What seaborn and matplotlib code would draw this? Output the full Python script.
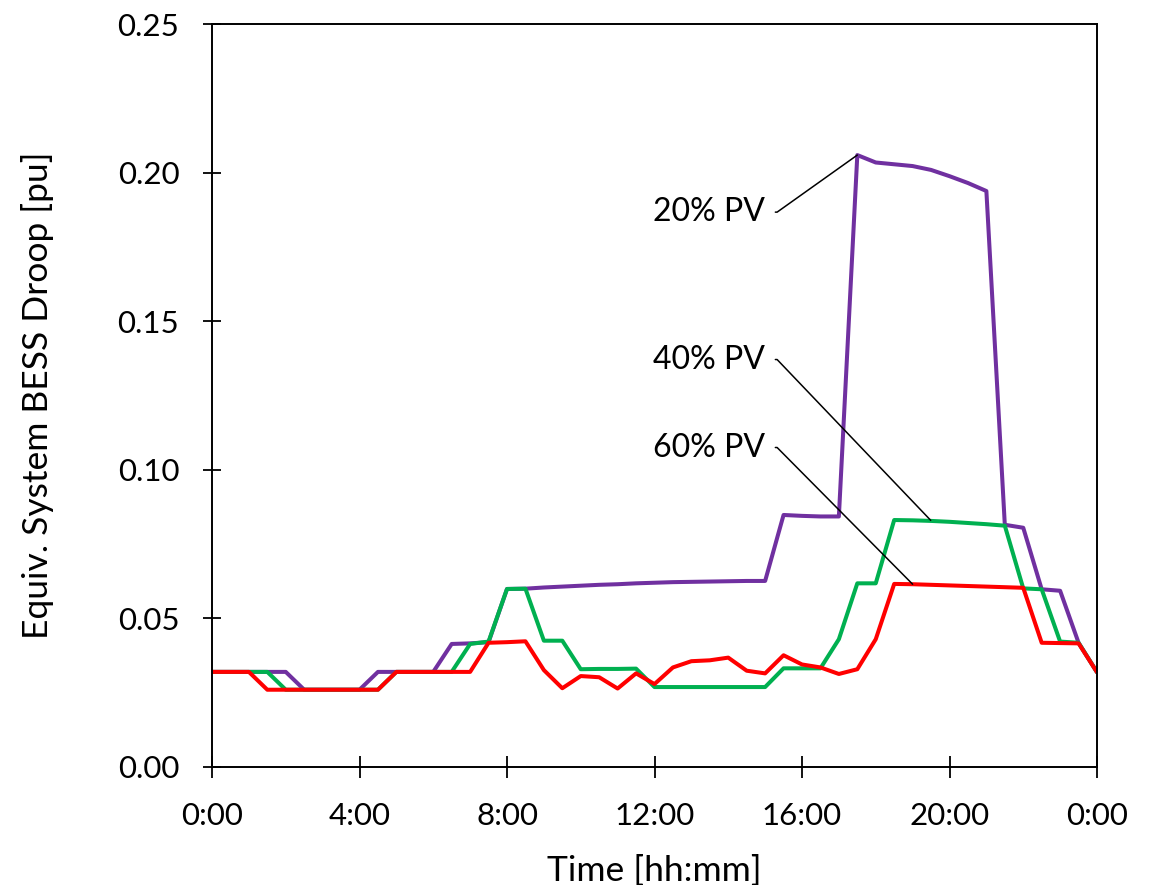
import numpy as np
import pandas as pd
import matplotlib
matplotlib.use("Agg")
import matplotlib.pyplot as plt
import seaborn as sns

# ---- data (30-min resolution, 0:00 .. 24:00) ----
hours = [i * 0.5 for i in range(49)]

pv20 = [0.032, 0.032, 0.032, 0.032, 0.032, 0.026, 0.026, 0.026, 0.026,
        0.032, 0.032, 0.032, 0.032,
        0.0414, 0.0416, 0.0420, 0.0599, 0.0600,
        0.0604, 0.0607, 0.0610, 0.0613, 0.0615, 0.0618, 0.0620, 0.0622,
        0.0623, 0.0624, 0.0625, 0.0626, 0.0626,
        0.0848, 0.0845, 0.0843, 0.0843,
        0.2059, 0.2034, 0.2028, 0.2022, 0.2009, 0.1988, 0.1965, 0.1938,
        0.0815, 0.0805, 0.0598, 0.0593, 0.0418, 0.0319]

pv40 = [0.032, 0.032, 0.032, 0.032,
        0.026, 0.026, 0.026, 0.026, 0.026, 0.026,
        0.032, 0.032, 0.032, 0.032,
        0.0414, 0.0422, 0.0599, 0.0600, 0.0425, 0.0425, 0.0329, 0.0330,
        0.0330, 0.0331,
        0.0269, 0.0269, 0.0269, 0.0269, 0.0269, 0.0269, 0.0269,
        0.0332, 0.0332, 0.0332, 0.0430,
        0.0618, 0.0618, 0.0831, 0.0830, 0.0828, 0.0825, 0.0821, 0.0817,
        0.0812,
        0.0601, 0.0598, 0.0422, 0.0418, 0.0319]

pv60 = [0.032, 0.032, 0.032,
        0.026, 0.026, 0.026, 0.026, 0.026, 0.026, 0.026,
        0.032, 0.032, 0.032, 0.032, 0.032,
        0.0418, 0.0420, 0.0423, 0.0326, 0.0265, 0.0306, 0.0302, 0.0264,
        0.0315, 0.0279, 0.0335, 0.0356, 0.0359, 0.0368, 0.0324, 0.0315,
        0.0376, 0.0345, 0.0335, 0.0313, 0.0329, 0.0430,
        0.0616, 0.0615, 0.0613, 0.0611, 0.0609, 0.0607, 0.0605, 0.0603,
        0.0418, 0.0417, 0.0416, 0.0319]

series_names = ["20% PV", "40% PV", "60% PV"]
series_colors = ["#7030A0", "#00B050", "#FF0000"]

x_ticks = [0, 4, 8, 12, 16, 20, 24]
x_tick_labels = ["0:00", "4:00", "8:00", "12:00", "16:00", "20:00", "0:00"]
y_ticks = [0.00, 0.05, 0.10, 0.15, 0.20, 0.25]

# label anchor: (text x, text y, target x, target y)
label_pos = {
    "20% PV": (15.0, 0.1867, 17.5, 0.2059),
    "40% PV": (15.0, 0.1371, 19.49, 0.0830),
    "60% PV": (15.0, 0.1075, 19.0, 0.0615),
}

df = pd.concat([
    pd.DataFrame({"hour": hours, "droop": vals, "case": name})
    for name, vals in zip(series_names, [pv20, pv40, pv60])
], ignore_index=True)

sns.set_theme(style="white")
plt.rcParams["font.family"] = ["Lato", "DejaVu Sans"]

fig = plt.figure(figsize=(11.51, 8.85), dpi=100)
ax = fig.add_axes([212 / 1151, 1 - 767 / 885, (1097 - 212) / 1151, (767 - 24) / 885])

sns.lineplot(data=df, x="hour", y="droop", hue="case",
             hue_order=series_names, palette=series_colors,
             linewidth=2.9, legend=False, ax=ax)

ax.set_xlim(0, 24)
ax.set_ylim(0, 0.25)
ax.set_xticks(x_ticks)
ax.set_xticklabels(x_tick_labels)
ax.set_yticks(y_ticks)
ax.set_yticklabels([f"{v:.2f}" for v in y_ticks])

ax.tick_params(axis="x", direction="inout", length=16, width=1.3,
               color="black", labelsize=22.5, pad=17, bottom=True,
               labelcolor="black")
ax.tick_params(axis="y", direction="inout", length=13, width=1.3,
               color="black", labelsize=22.5, pad=17, left=True,
               labelcolor="black")

for side in ["left", "bottom", "top", "right"]:
    ax.spines[side].set_visible(True)
    ax.spines[side].set_color("black")
    ax.spines[side].set_linewidth(1.4)

ax.set_xlabel("Time [hh:mm]", fontsize=25.5, labelpad=18, color="black")
ax.set_ylabel("Equiv. System BESS Droop [pu]", fontsize=25.5, labelpad=46,
              color="black")

for name in series_names:
    tx, ty, px, py = label_pos[name]
    ax.annotate(name, xy=(px, py), xytext=(tx, ty),
                textcoords="data", ha="right", va="center", fontsize=23,
                color="black",
                arrowprops=dict(arrowstyle="-", color="black", lw=1.1,
                                shrinkA=5, shrinkB=0,
                                relpos=(1.0, 0.5),
                                connectionstyle="arc,angleA=0,armA=12,angleB=0,armB=0,rad=0"))

fig.savefig("out.png", dpi=100)
